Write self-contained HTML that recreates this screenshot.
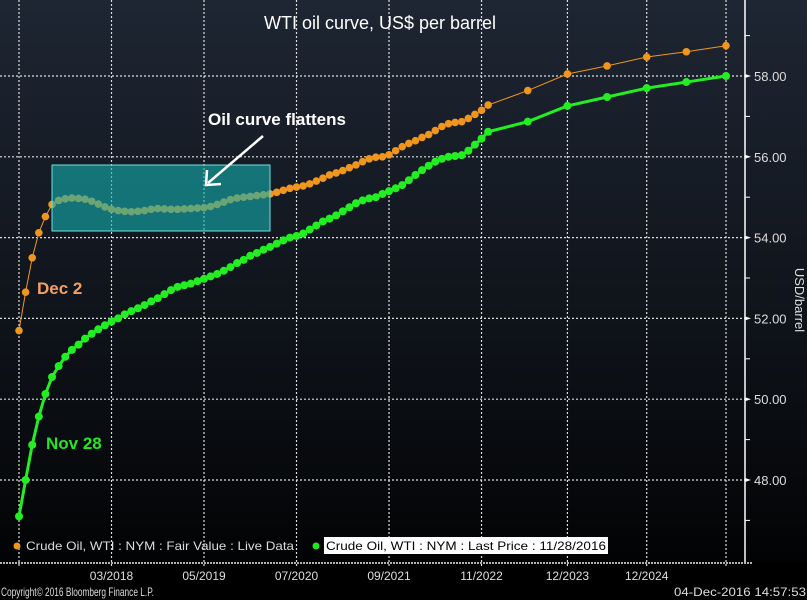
<!DOCTYPE html>
<html><head><meta charset="utf-8"><style>
html,body{margin:0;padding:0;background:#000;}
svg{display:block;font-family:"Liberation Sans",sans-serif;}
</style></head><body>
<svg id="chart" width="807" height="600" viewBox="0 0 807 600">
<defs>
<linearGradient id="bg" x1="0" y1="0" x2="0" y2="1">
<stop offset="0" stop-color="#1e2633"/><stop offset="0.6" stop-color="#0d1117"/><stop offset="1" stop-color="#000"/>
</linearGradient>
</defs>
<rect x="0" y="0" width="807" height="600" fill="url(#bg)"/>
<rect x="0" y="562" width="807" height="38" fill="#000"/>
<g id="grid"></g>
<g id="series"></g>
<rect x="52" y="165" width="218" height="66" fill="rgba(20,175,175,0.6)" stroke="#6fe0e0" stroke-width="1"/>
<text x="380" y="29" fill="#fff" font-size="18" text-anchor="middle">WTI oil curve, US$ per barrel</text>
<text x="208" y="125" fill="#fff" font-size="17" font-weight="bold">Oil curve flattens</text>
<line x1="263" y1="136" x2="208" y2="183" stroke="#fff" stroke-width="2.5"/>
<polyline points="207,170 206,185 221,184" fill="none" stroke="#fff" stroke-width="2.5"/>
<text x="37" y="294" fill="#f4a060" font-size="17" font-weight="bold">Dec 2</text>
<text x="46" y="449" fill="#22e822" font-size="17" font-weight="bold">Nov 28</text>
<g id="yaxis"></g>
<text transform="translate(795,300) rotate(90)" fill="#ddd" font-size="13" text-anchor="middle">USD/barrel</text>
<g id="xaxis"></g>
<g>
<circle cx="17" cy="546" r="3.5" fill="#f0961e"/>
<text x="26" y="550" fill="#ddd" font-size="12" textLength="268" lengthAdjust="spacingAndGlyphs">Crude Oil, WTI : NYM : Fair Value : Live Data</text>
<circle cx="316" cy="546" r="3.5" fill="#22e822"/>
<rect x="324" y="537" width="284" height="17" fill="#fff"/>
<text x="326" y="550" fill="#000" font-size="12" textLength="280" lengthAdjust="spacingAndGlyphs">Crude Oil, WTI : NYM : Last Price : 11/28/2016</text>
</g>
<text x="1" y="596" fill="#ddd" font-size="12" textLength="153" lengthAdjust="spacingAndGlyphs">Copyright© 2016 Bloomberg Finance L.P.</text>
<text x="806" y="596" fill="#ddd" font-size="12" text-anchor="end" textLength="132" lengthAdjust="spacingAndGlyphs">04-Dec-2016 14:57:53</text>
</svg>
<script>
const monthsOrange=[0,1,2,3,4,5,6,7,8,9,10,11,12,13,14,15,16,17,18,19,20,21,22,23,24,25,26,27,28,29,30,31,32,33,34,35,36,37,38,39,40,41,42,43,44,45,46,47,48,49,50,51,52,53,54,55,56,57,58,59,60,61,62,63,64,65,66,67,68,69,70,71,77,83,89,95,101,107];
const valuesOrange=[51.7,52.65,53.5,54.12,54.52,54.82,54.92,54.96,54.98,54.97,54.95,54.9,54.83,54.76,54.7,54.67,54.65,54.64,54.65,54.67,54.7,54.72,54.71,54.7,54.7,54.71,54.72,54.73,54.74,54.77,54.82,54.88,54.94,54.98,55.0,55.02,55.04,55.06,55.08,55.12,55.17,55.22,55.25,55.28,55.33,55.4,55.47,55.55,55.6,55.66,55.73,55.8,55.88,55.95,55.99,56.0,56.05,56.15,56.25,56.33,56.4,56.48,56.55,56.65,56.75,56.82,56.85,56.87,56.95,57.05,57.15,57.28,57.64,58.05,58.25,58.47,58.6,58.75];
const monthsGreen=monthsOrange;
const valuesGreen=[47.1,48.0,48.87,49.57,50.13,50.55,50.82,51.05,51.22,51.35,51.5,51.62,51.73,51.83,51.92,52.0,52.1,52.18,52.25,52.33,52.42,52.5,52.6,52.7,52.78,52.82,52.86,52.92,52.98,53.04,53.1,53.18,53.27,53.37,53.45,53.55,53.62,53.7,53.77,53.85,53.93,54.0,54.04,54.1,54.2,54.3,54.4,54.47,54.55,54.65,54.75,54.85,54.92,54.97,55.0,55.08,55.15,55.22,55.3,55.42,55.55,55.67,55.78,55.88,55.95,56.0,56.02,56.04,56.15,56.3,56.45,56.62,56.87,57.26,57.48,57.7,57.85,58.0];
const yTicks=[48,50,52,54,56,58];
const yTickLabels=["48.00","50.00","52.00","54.00","56.00","58.00"];
const xTickMonths=[0,14,28,42,56,70,83,95,107];
const xTickLabels=["","03/2018","05/2019","07/2020","09/2021","11/2022","12/2023","12/2024",""];

const NS="http://www.w3.org/2000/svg";
function xS(m){return 19+m*(726-19)/107;}
function yS(v){return 76+(58-v)*40.4;}
function mk(tag,attrs,parent){const e=document.createElementNS(NS,tag);for(const k in attrs)e.setAttribute(k,attrs[k]);parent.appendChild(e);return e;}
const grid=document.getElementById('grid'),ser=document.getElementById('series'),ya=document.getElementById('yaxis'),xa=document.getElementById('xaxis');

yTicks.forEach((v,i)=>{
 const l=mk('line',{x1:0,x2:745,y1:yS(v),y2:yS(v),stroke:'#ddd','stroke-width':1.2,'stroke-dasharray':'2,2'},grid);
 
 
 const t=mk('text',{x:754,y:yS(v)+5,fill:'#ddd','font-size':13},ya);
 
 
 t.textContent=yTickLabels[i];
 const tk=mk('polygon',{points:`745,${yS(v)-2} 751,${yS(v)} 745,${yS(v)+2}`,fill:'#fff'},ya);
 
 
});
for(let v=47;v<=59;v+=2){
 const mt=mk('line',{x1:745,x2:750,y1:yS(v),y2:yS(v),stroke:'#fff','stroke-width':1},ya);
 
 
}
const axl=mk('line',{x1:745,x2:745,y1:0,y2:562,stroke:'#fff','stroke-width':1.5},ya);



xTickMonths.forEach((m,i)=>{
 const l=mk('line',{x1:xS(m),x2:xS(m),y1:0,y2:568,stroke:'#ddd','stroke-width':1.2,'stroke-dasharray':'2,2'},grid);
 
 
 if(xTickLabels[i]){
  const t=mk('text',{x:xS(m),y:580,fill:'#ddd','font-size':12,'text-anchor':'middle'},xa);
  
  
  t.textContent=xTickLabels[i];
 }
});
const xl=mk('line',{x1:0,x2:752,y1:563,y2:563,stroke:'#eee','stroke-width':1.5,'stroke-dasharray':'2,1'},xa);



function drawSeries(ms,vs,color,lw,r,name){
 const pts=ms.map((m,i)=>xS(m)+','+yS(vs[i])).join(' ');
 const pl=mk('polyline',{points:pts,fill:'none',stroke:color,'stroke-width':lw},ser);
 
 
 ms.forEach((m,i)=>{
  const c=mk('circle',{cx:xS(m),cy:yS(vs[i]),r:r,fill:color},ser);
  
  
 });
}
drawSeries(monthsGreen,valuesGreen,'#22ee22',3,4,'last-price-nov-28');
drawSeries(monthsOrange,valuesOrange,'#f0961e',1,3.8,'fair-value-dec-2');
</script>
</body></html>
